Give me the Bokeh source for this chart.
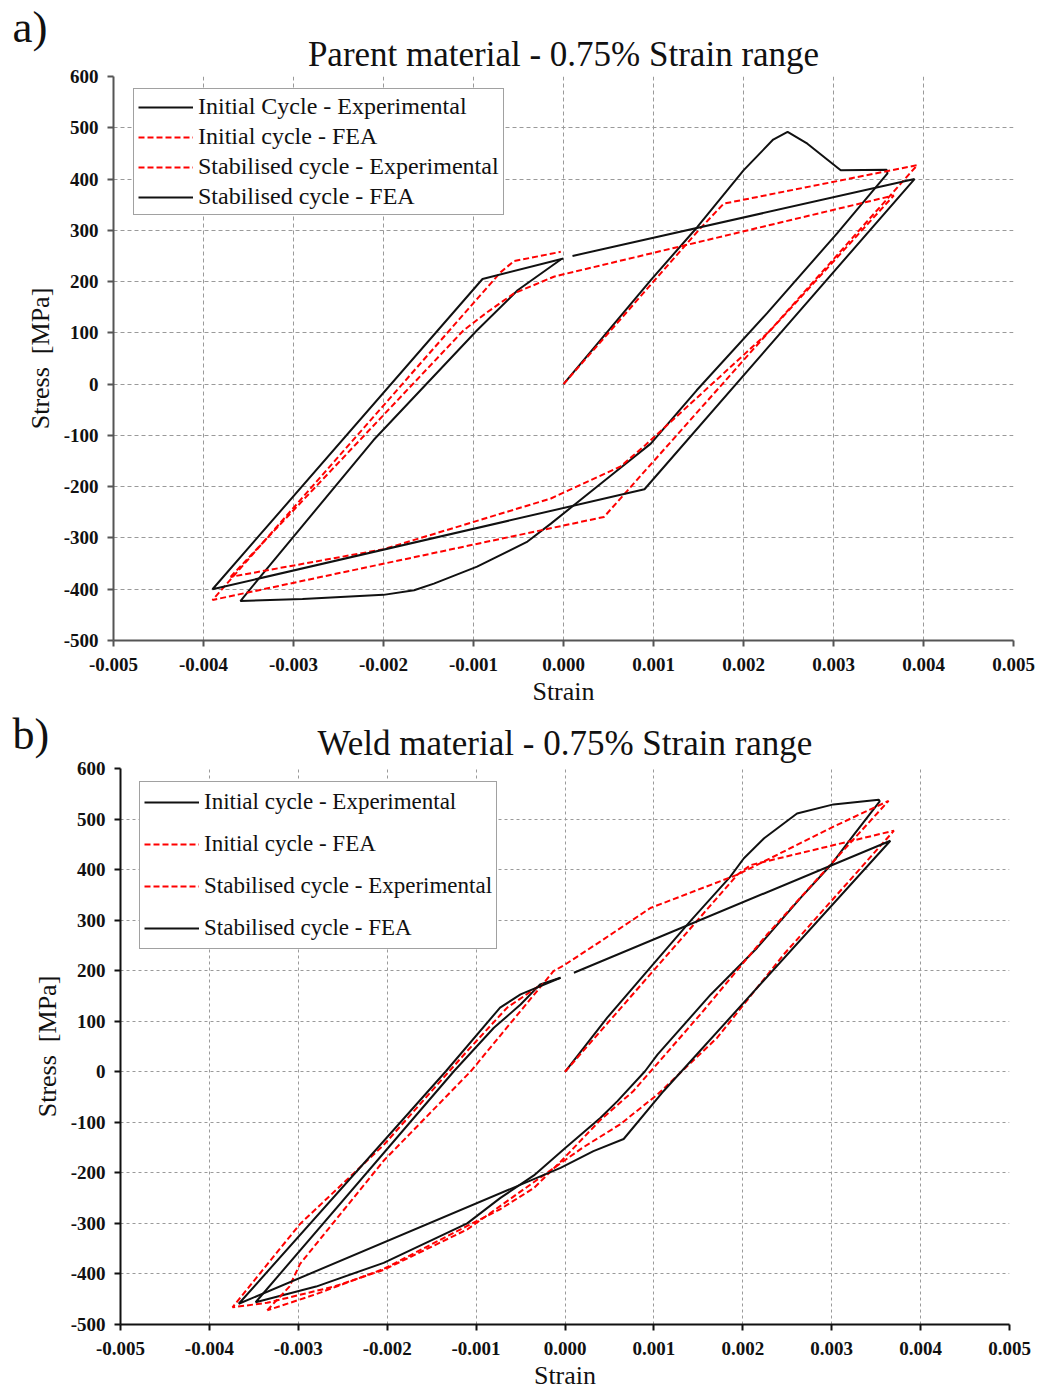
from bokeh.plotting import figure
from bokeh.models import (FixedTicker, NumeralTickFormatter, Legend, LegendItem,
                          Range1d, Title)
from bokeh.embed import file_html
from bokeh.resources import INLINE

# ---------------- data ----------------
X_TICKS = [-0.005, -0.004, -0.003, -0.002, -0.001, 0.0, 0.001, 0.002, 0.003, 0.004, 0.005]
Y_TICKS = [-500, -400, -300, -200, -100, 0, 100, 200, 300, 400, 500, 600]

# (a) Parent material
a_init_exp_strain = [0, 0.00097, 0.00149, 0.0020, 0.00233, 0.00249, 0.00271, 0.00308, 0.00359, 0.00360,
                     0.00304, 0.00226, 0.00148, 0.00097, 0.00060, -0.00014, -0.00040, -0.00096, -0.00144,
                     -0.00166, -0.00200, -0.00290, -0.00359, -0.00337, -0.00211, -0.00096, -0.00051, -0.00003]
a_init_exp_stress = [0, 203, 307, 417, 477, 492, 469, 417, 418, 411,
                     294, 138, -12, -116, -168, -272, -307, -356, -389,
                     -402, -411, -419, -423, -376, -109, 105, 183, 243]

a_init_fea_strain = [0, 0.0015, 0.00178, 0.00393, 0.00045, -0.0039, -0.0007, -0.00055, -0.00003]
a_init_fea_stress = [0, 300, 352, 427, -259, -421, 218, 240, 258]

a_stab_exp_strain = [-0.0037, -0.00111, -0.00085, -0.00055, -0.0001, 0.00367, 0.0023, 0.00089, 0.00063,
                     -0.00014, -0.0020, -0.0037]
a_stab_exp_stress = [-376, 105, 140, 177, 210, 368, 105, -122, -161, -223, -322, -376]

a_stab_fea_strain = [0.0001, 0.0039, 0.0009, -0.0039, -0.0009, 0.0]
a_stab_fea_stress = [250, 400, -205, -400, 205, 245]

a_labels = ["Initial Cycle - Experimental", "Initial cycle - FEA",
            "Stabilised cycle - Experimental", "Stabilised cycle - FEA"]

# (b) Weld material
b_init_exp_strain = [0, 0.000475, 0.000925, 0.00141, 0.00186, 0.00201, 0.00224, 0.00261, 0.00302, 0.00353,
                     0.00354, 0.00325, 0.00299, 0.00265, 0.00216, 0.00164, 0.00104, 0.00090, 0.00059, 0.00040,
                     -0.00001, -0.00035, -0.00073, -0.0011, -0.00204, -0.0028, -0.00348,
                     -0.00125, -0.0008, -0.0005, -0.00028, -0.00005]
b_init_exp_stress = [0, 107, 199, 298, 386, 422, 462, 511, 529, 538,
                     535, 469, 409, 344, 245, 153, 34, 1, -58, -91,
                     -153, -205, -250, -300, -378, -425, -456,
                     1, 87, 133, 173, 186]

b_init_fea_strain = [0, 0.00194, 0.00209, 0.0037, 0.00246, 0.00171, 0.00104, 0.00062, 0.0002, -0.00054,
                     -0.0011, -0.00204, -0.0026, -0.00335, -0.00374, -0.00298, -0.00204, -0.0011,
                     -0.00065, -0.0003]
b_init_fea_stress = [0, 390, 409, 477, 232, 67, -45, -104, -150, -242,
                     -312, -392, -425, -457, -466, -301, -145, 41,
                     127, 169]

b_stab_exp_strain = [-0.00335, -0.0031, -0.00298, -0.00204, -0.00106, -0.00013, 0.0, 0.0004, 0.00096,
                     0.00194, 0.00302, 0.00364, 0.00295, 0.00227, 0.00152, 0.00077, 0.0004, -0.00005,
                     -0.00035, -0.00073, -0.0011, -0.00204, -0.0028, -0.00335]
b_stab_exp_stress = [-472, -425, -380, -176, 1, 199, 212, 258, 324,
                     390, 485, 536, 403, 271, 113, -38, -95, -178,
                     -230, -272, -305, -390, -440, -472]

b_stab_fea_strain = [0.0001, 0.00366, 0.00111, 0.00066, 0.00032, -0.00005, -0.00367, -0.00134, -0.00073,
                     -0.0005, -0.00005]
b_stab_fea_stress = [196, 457, -38, -133, -157, -190, -459, 1, 127, 153, 186]

b_labels = ["Initial cycle - Experimental", "Initial cycle - FEA",
            "Stabilised cycle - Experimental", "Stabilised cycle - FEA"]

SERIF = "Liberation Serif"
W = 1041


def panel(tag, tag_offset, tag_standoff, tag_size, title, height, bl, br, bt, bb, series, labels,
          leg_loc, leg_font, leg_row, leg_spacing, axis_color, grid_dash, title_standoff, title_offset):
    p = figure(width=W, height=height, output_backend="svg", toolbar_location=None,
               x_range=Range1d(-0.005, 0.005), y_range=Range1d(-500, 600),
               min_border_left=bl, min_border_right=br, min_border_top=bt, min_border_bottom=bb)
    # panel tag (outermost title)
    p.title.text = tag
    p.title.align = "left"
    p.title.offset = tag_offset
    p.title.standoff = tag_standoff
    p.title.text_font = SERIF
    p.title.text_font_size = tag_size
    p.title.text_font_style = "normal"
    p.title.text_color = "#111111"
    # chart title (next to the frame)
    p.add_layout(Title(text=title, align="center", offset=title_offset, standoff=title_standoff,
                       text_font=SERIF, text_font_size="35px", text_font_style="normal",
                       text_color="#111111"), "above")
    p.outline_line_color = None

    p.xaxis.ticker = FixedTicker(ticks=X_TICKS)
    p.yaxis.ticker = FixedTicker(ticks=Y_TICKS)
    p.xaxis.formatter = NumeralTickFormatter(format="0.000")
    p.yaxis.formatter = NumeralTickFormatter(format="0")
    for ax in (p.xaxis, p.yaxis):
        ax.major_label_text_font = SERIF
        ax.major_label_text_font_style = "bold"
        ax.major_label_text_font_size = "19px"
        ax.major_label_text_color = "#111111"
        ax.axis_label_text_font = SERIF
        ax.axis_label_text_font_style = "normal"
        ax.axis_label_text_font_size = "26px"
        ax.axis_label_text_color = "#111111"
        ax.axis_line_color = axis_color
        ax.axis_line_width = 2
        ax.major_tick_line_color = axis_color
        ax.major_tick_line_width = 2
        ax.major_tick_in = 0
        ax.major_tick_out = 6
        ax.minor_tick_in = 0
        ax.minor_tick_out = 0
    p.xaxis.major_label_standoff = 11
    p.xaxis.axis_label_standoff = 3
    p.yaxis.major_label_standoff = 9
    p.yaxis.axis_label_standoff = 6
    p.xaxis.axis_label = "Strain"
    p.yaxis.axis_label = "Stress \u00a0[MPa]"

    for g in (p.xgrid, p.ygrid):
        g.grid_line_color = "#9a9a9a"
        g.grid_line_width = 1
        g.grid_line_dash = grid_dash

    items = []
    for (xs, ys, color, dash), lab in zip(series, labels):
        r = p.line(xs, ys, line_color=color, line_width=2, line_dash=dash)
        items.append(LegendItem(label=lab, renderers=[r]))
    leg = Legend(items=items, location=leg_loc)
    leg.label_text_font = SERIF
    leg.label_text_font_size = leg_font
    leg.label_text_color = "#111111"
    leg.glyph_width = 55
    leg.glyph_height = leg_row
    leg.label_height = leg_row
    leg.spacing = leg_spacing
    leg.padding = 4
    leg.margin = 0
    leg.label_standoff = 5
    leg.border_line_color = "#444444"
    leg.border_line_width = 1.5
    leg.background_fill_color = "white"
    leg.background_fill_alpha = 1
    p.add_layout(leg)
    return p


RED = "#ff0000"
BLK = "#111111"

pa = panel("a)", -101, -45, "45px", "Parent material - 0.75% Strain range", 712, 113, 28, 76, 72,
           [(a_init_exp_strain, a_init_exp_stress, BLK, "solid"),
            (a_init_fea_strain, a_init_fea_stress, RED, "6 3"),
            (a_stab_exp_strain, a_stab_exp_stress, RED, "6 3"),
            (a_stab_fea_strain, a_stab_fea_stress, BLK, "solid")],
           a_labels, (20, 425), "24px", 24, 3, "#555555", "4 3", 6, 8)

pb = panel("b)", -108, -84, "44px", "Weld material - 0.75% Strain range", 680, 120, 32, 56, 68,
           [(b_init_exp_strain, b_init_exp_stress, BLK, "solid"),
            (b_init_fea_strain, b_init_fea_stress, RED, "6 3"),
            (b_stab_exp_strain, b_stab_exp_stress, RED, "6 3"),
            (b_stab_fea_strain, b_stab_fea_stress, BLK, "solid")],
           b_labels, (19, 375), "23px", 32, 10, "#111111", "3 3", 11, 0)

open("out.html", "w").write(file_html((pa, pb), INLINE))
